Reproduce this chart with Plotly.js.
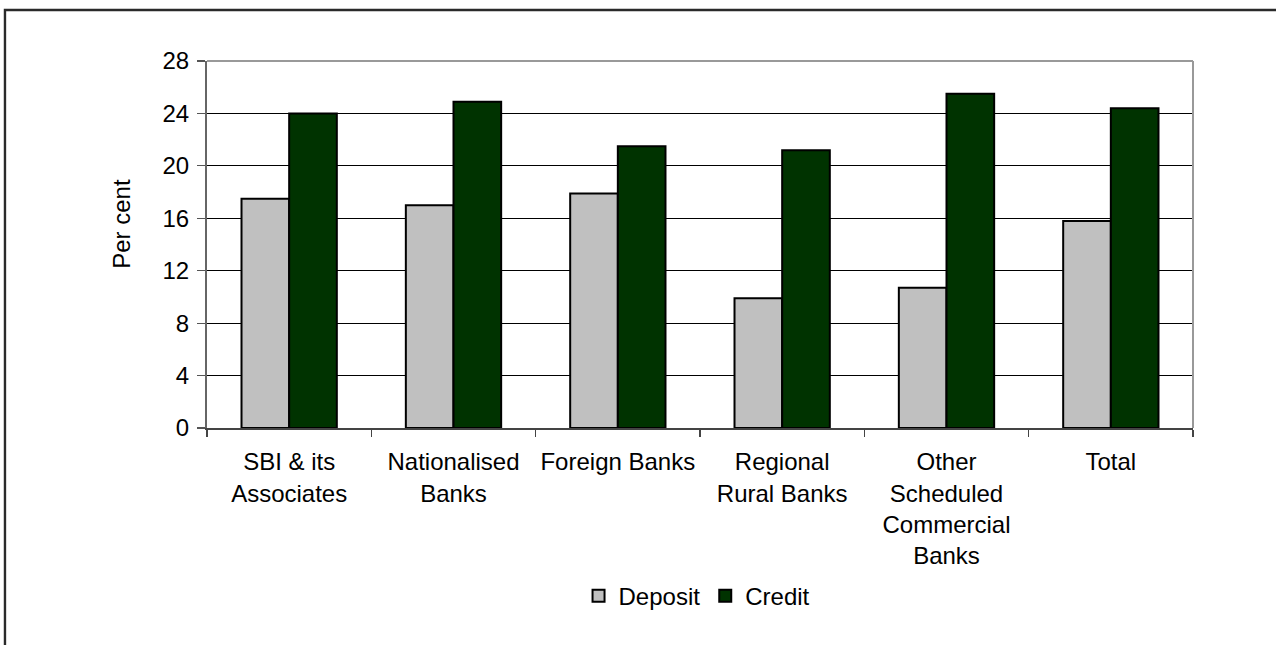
<!DOCTYPE html>
<html>
<head>
<meta charset="utf-8">
<script src="https://cdn.plot.ly/plotly-3.0.1.min.js"></script>
<style>
  html, body { margin: 0; padding: 0; background: #ffffff; }
  #chart { width: 1276px; height: 645px; }
</style>
</head>
<body>
<div id="chart"></div>
<script>
// ---- Data ----
const categories = [
  "SBI & its Associates",
  "Nationalised Banks",
  "Foreign Banks",
  "Regional Rural Banks",
  "Other Scheduled Commercial Banks",
  "Total"
];
const tickLabels = [
  "SBI & its<br>Associates",
  "Nationalised<br>Banks",
  "Foreign Banks",
  "Regional<br>Rural Banks",
  "Other<br>Scheduled<br>Commercial<br>Banks",
  "Total"
];
const depositValues = [17.5, 17.0, 17.9, 9.9, 10.7, 15.8];
const creditValues  = [24.0, 24.9, 21.5, 21.2, 25.5, 24.4];
const yTickValues = [0, 4, 8, 12, 16, 20, 24, 28];

// ---- Chart ----
const FONT = "Liberation Sans, Arial, Helvetica, sans-serif";
const fs = 24;

const traces = [
  {
    type: "bar",
    name: "Deposit",
    x: categories,
    y: depositValues,
    marker: { color: "#c0c0c0", line: { color: "#000000", width: 2 } },
    hoverinfo: "x+y+name"
  },
  {
    type: "bar",
    name: "Credit",
    x: categories,
    y: creditValues,
    marker: { color: "#003300", line: { color: "#000000", width: 2 } },
    hoverinfo: "x+y+name"
  }
];

const layout = {
  width: 1276,
  height: 645,
  margin: { l: 207, r: 83, t: 61, b: 216.5, pad: 0 },
  paper_bgcolor: "#ffffff",
  plot_bgcolor: "#ffffff",
  font: { family: FONT, size: fs, color: "#000000" },
  barmode: "group",
  bargap: 0.42,
  bargroupgap: 0,
  showlegend: true,
  legend: {
    orientation: "h",
    x: 0.497, xanchor: "center",
    y: -0.4585, yanchor: "middle",
    font: { family: FONT, size: fs, color: "#000000" },
    itemwidth: 30,
    tracegroupgap: 0,
    bgcolor: "rgba(0,0,0,0)"
  },
  xaxis: {
    type: "category",
    tickmode: "array",
    tickvals: categories,
    ticktext: tickLabels,
    tickson: "boundaries",
    ticks: "outside",
    ticklen: 7,
    tickwidth: 1.2,
    tickcolor: "#444444",
    ticklabelstandoff: 12,
    showline: true,
    linecolor: "#444444",
    linewidth: 1.6,
    showgrid: false,
    zeroline: false,
    tickangle: 0,
    tickfont: { family: FONT, size: fs, color: "#000000" },
    fixedrange: true
  },
  yaxis: {
    range: [0, 28],
    tickmode: "array",
    tickvals: yTickValues,
    ticktext: yTickValues.map(String),
    ticks: "outside",
    ticklen: 8,
    tickwidth: 1.2,
    tickcolor: "#555555",
    ticklabelstandoff: 3,
    showline: true,
    linecolor: "#666666",
    linewidth: 2,
    showgrid: true,
    gridcolor: "#000000",
    gridwidth: 1,
    zeroline: false,
    tickfont: { family: FONT, size: fs, color: "#000000" },
    fixedrange: true
  },
  annotations: [
    {
      text: "Per cent",
      xref: "paper", yref: "paper",
      x: -0.0862, y: 0.5565,
      xanchor: "center", yanchor: "middle",
      textangle: -90,
      showarrow: false,
      font: { family: FONT, size: fs, color: "#000000" }
    }
  ],
  shapes: [
    // plot area top and right border (gray)
    { type: "line", xref: "paper", yref: "paper", x0: 0, x1: 1, y0: 1, y1: 1,
      line: { color: "#999999", width: 2 }, layer: "above" },
    { type: "line", xref: "paper", yref: "paper", x0: 1, x1: 1, y0: 0, y1: 1,
      line: { color: "#999999", width: 2 }, layer: "above" },
    // outer chart frame
    { type: "rect", xref: "paper", yref: "paper",
      x0: -0.2049, x1: 1.3, y0: -1.0, y1: 1.1388,
      line: { color: "#2a2a2a", width: 2.4 }, fillcolor: "rgba(0,0,0,0)", layer: "above" }
  ]
};

Plotly.newPlot("chart", traces, layout, { displayModeBar: false, staticPlot: true });
</script>
</body>
</html>
